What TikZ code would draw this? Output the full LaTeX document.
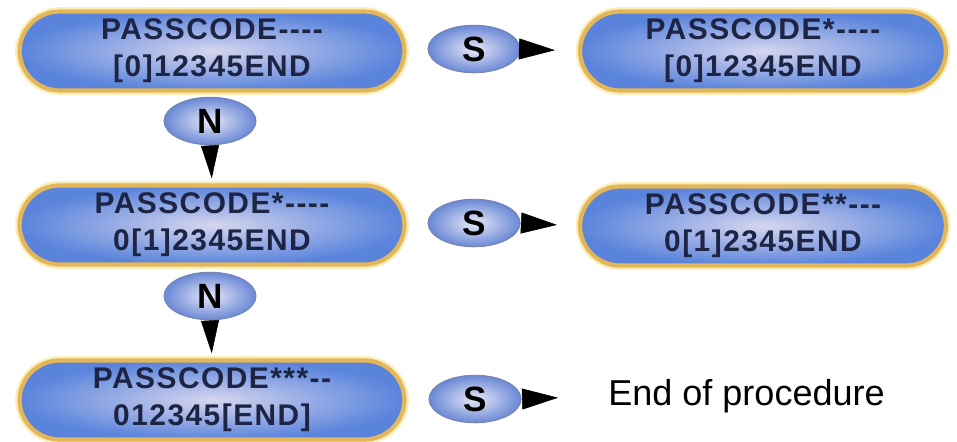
\documentclass[tikz,border=0pt]{standalone}
\usepackage{fontspec}
\setmainfont{Liberation Sans}
\newfontfamily\lcdfont[LetterSpace=5]{Liberation Sans}
\usetikzlibrary{arrows.meta,shapes.geometric}

\definecolor{boxedge}{HTML}{E4B65A}
\definecolor{boxglow}{HTML}{FBEDB8}
\definecolor{boxblue}{HTML}{5A84DC}
\definecolor{boxlight}{HTML}{D6D6EE}
\definecolor{lcdtext}{HTML}{1E2444}
\definecolor{keyblue}{HTML}{6A88D6}
\definecolor{keylight}{HTML}{E6E8F6}
\definecolor{keyedge}{HTML}{7886B4}

\tikzset{
  display/.style={rectangle,rounded corners=0.8cm,
    minimum width=7.7cm,minimum height=1.58cm,
    inner color=boxlight,outer color=boxblue,
    draw=boxedge,line width=2.4pt,
    preaction={draw=boxglow,line width=5pt},
    align=center,text=lcdtext,
    font=\lcdfont\bfseries\fontsize{17}{21}\selectfont},
  key/.style={ellipse,minimum width=1.84cm,minimum height=0.95cm,
    inner sep=0pt,inner color=keylight,outer color=keyblue,
    draw=keyedge,line width=0.6pt,
    font=\bfseries\fontsize{20}{24}\selectfont},
  wedgeright/.style={-{Triangle[length=0.72cm,width=0.42cm]},line width=0.3pt},
  wedgedown/.style={-{Triangle[length=0.66cm,width=0.36cm]},line width=0.3pt}
}

\begin{document}
\begin{tikzpicture}[x=0.02cm,y=-0.02cm]
  \useasboundingbox (0,0) rectangle (957,441);

  % left column
  \node[display] (pc0) at (212,51) {PASSCODE----\\{[0]}12345END};
  \node[display] (pc1) at (212,225) {PASSCODE*----\\0[1]2345END};
  \node[display] (pc2) at (212,400) {PASSCODE***--\\012345[END]};

  % right column
  \node[display,minimum width=7.32cm] (pc0s) at (763,51) {PASSCODE*----\\{[0]}12345END};
  \node[display,minimum width=7.32cm] (pc1s) at (763,226) {PASSCODE**---\\0[1]2345END};
  \node[anchor=west,inner sep=0pt,font=\fontsize{20.5}{24}\selectfont] (done) at (608,396) {End of procedure};

  % keys
  \node[key] (s0) at (474,49) {S};
  \node[key] (s1) at (474,223) {S};
  \node[key] (s2) at (475,399) {S};
  \node[key] (n0) at (210,121) {N};
  \node[key] (n1) at (210,296) {N};

  \draw[wedgeright,shorten >=0.46cm] (s0.east) -- (pc0s.west);
  \draw[wedgeright,shorten >=0.42cm] (s1.east) -- (pc1s.west);
  \draw[wedgeright,shorten >=1cm] (s2.east) -- (done.west);
  \draw[wedgedown,shorten >=0.1cm] (n0.south) -- (pc1.north);
  \draw[wedgedown,shorten >=0.1cm] (n1.south) -- (pc2.north);
\end{tikzpicture}
\end{document}
